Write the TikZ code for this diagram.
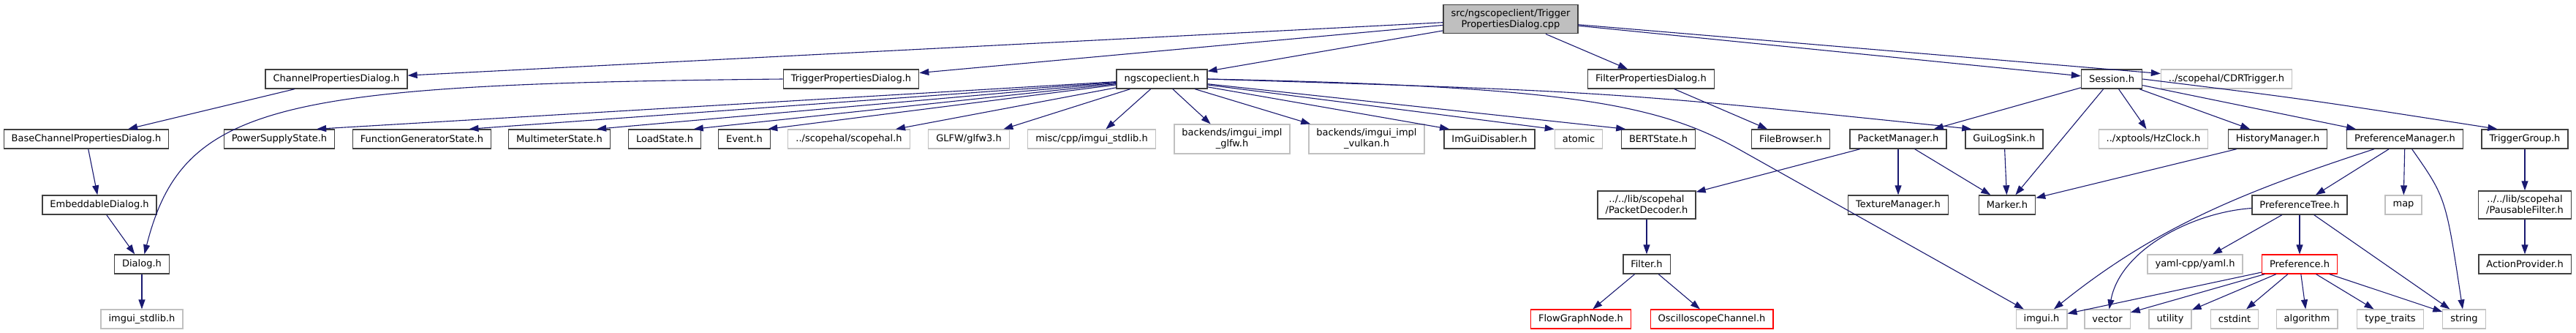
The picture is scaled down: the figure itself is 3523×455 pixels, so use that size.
\documentclass[tikz,border=0pt]{standalone}
\usepackage{fontspec}
\setmainfont{DejaVu Sans}
\usepackage{tikz}
\usetikzlibrary{arrows.meta}
\usepackage{xcolor}
\definecolor{edgeblue}{HTML}{191970}
\definecolor{rootfill}{HTML}{BFBFBF}
\definecolor{boxline}{HTML}{404040}
\definecolor{sysline}{HTML}{C0C0C0}

\begin{document}
\begin{tikzpicture}[
    x=1pt, y=-1pt,
    hfile/.style={draw=boxline, fill=white, line width=1.4pt, font=\fontsize{13}{15}\selectfont, inner xsep=10.5pt, inner ysep=6pt, minimum height=26pt, align=center},
    srcfile/.style={hfile, fill=rootfill},
    sysfile/.style={hfile, draw=sysline, line width=1.2pt},
    cutfile/.style={hfile, draw=red, line width=1.2pt},
    incl/.style={-{Triangle[length=13pt, width=9pt]}, draw=edgeblue, line width=1.1pt}
]
\useasboundingbox (0,0) rectangle (3523,455);

\def\ya{26}
\def\yb{108}
\def\yc{190}
\def\yd{280}
\def\ye{361}
\def\yf{436}

\node[srcfile] (main) at (2066,\ya) {src/ngscopeclient/Trigger\\PropertiesDialog.cpp};

\node[hfile] (cpd) at (460,\yb) {ChannelPropertiesDialog.h};
\node[hfile] (tpd) at (1164,\yb) {TriggerPropertiesDialog.h};
\node[hfile] (ngsc) at (1589,\yb) {ngscopeclient.h};
\node[hfile] (fpd) at (2258,\yb) {FilterPropertiesDialog.h};
\node[hfile] (sess) at (2888,\yb) {Session.h};
\node[sysfile] (cdr) at (3045,\yb) {../scopehal/CDRTrigger.h};

\node[hfile] (bcpd) at (118,\yc) {BaseChannelPropertiesDialog.h};
\node[hfile] (psu) at (382,\yc) {PowerSupplyState.h};
\node[hfile] (fgs) at (577,\yc) {FunctionGeneratorState.h};
\node[hfile] (mms) at (765,\yc) {MultimeterState.h};
\node[hfile] (load) at (909,\yc) {LoadState.h};
\node[hfile] (event) at (1018,\yc) {Event.h};
\node[sysfile] (scopehal) at (1161,\yc) {../scopehal/scopehal.h};
\node[sysfile] (glfw) at (1325,\yc) {GLFW/glfw3.h};
\node[sysfile] (miscstd) at (1493,\yc) {misc/cpp/imgui\_stdlib.h};
\node[sysfile] (implglfw) at (1685,\yc) {backends/imgui\_impl\\\_glfw.h};
\node[sysfile] (implvk) at (1869,\yc) {backends/imgui\_impl\\\_vulkan.h};
\node[hfile] (imdis) at (2037,\yc) {ImGuiDisabler.h};
\node[sysfile] (atomic) at (2159,\yc) {atomic};
\node[hfile] (bert) at (2268,\yc) {BERTState.h};
\node[hfile] (fbrowse) at (2449,\yc) {FileBrowser.h};
\node[hfile] (pktmgr) at (2596,\yc) {PacketManager.h};
\node[hfile] (logsink) at (2741,\yc) {GuiLogSink.h};
\node[sysfile] (hzclk) at (2945,\yc) {../xptools/HzClock.h};
\node[hfile] (histmgr) at (3115,\yc) {HistoryManager.h};
\node[hfile] (prefmgr) at (3289,\yc) {PreferenceManager.h};
\node[hfile] (trggrp) at (3453,\yc) {TriggerGroup.h};

\node[hfile] (emb) at (136,\yd) {EmbeddableDialog.h};
\node[hfile] (pktdec) at (2252,\yd) {../../lib/scopehal\\/PacketDecoder.h};
\node[hfile] (texmgr) at (2596,\yd) {TextureManager.h};
\node[hfile] (marker) at (2745,\yd) {Marker.h};
\node[hfile] (preftree) at (3145,\yd) {PreferenceTree.h};
\node[sysfile] (map) at (3287,\yd) {map};
\node[hfile] (pausf) at (3453,\yd) {../../lib/scopehal\\/PausableFilter.h};

\node[hfile] (dialog) at (194,\ye) {Dialog.h};
\node[hfile] (filter) at (2252,\ye) {Filter.h};
\node[sysfile] (yaml) at (3002,\ye) {yaml-cpp/yaml.h};
\node[cutfile] (pref) at (3145,\ye) {Preference.h};
\node[hfile] (actprov) at (3453,\ye) {ActionProvider.h};

\node[sysfile] (imstd) at (194,\yf) {imgui\_stdlib.h};
\node[cutfile] (flownode) at (2162,\yf) {FlowGraphNode.h};
\node[cutfile] (oscch) at (2341,\yf) {OscilloscopeChannel.h};
\node[sysfile] (imgui) at (2792,\yf) {imgui.h};
\node[sysfile] (vector) at (2882,\yf) {vector};
\node[sysfile] (utility) at (2968,\yf) {utility};
\node[sysfile] (cstdint) at (3056,\yf) {cstdint};
\node[sysfile] (algo) at (3155,\yf) {algorithm};
\node[sysfile] (ttraits) at (3269,\yf) {type\_traits};
\node[sysfile] (string) at (3370,\yf) {string};

\draw[incl] (main) -- (cpd);
\draw[incl] (main) -- (tpd);
\draw[incl] (main) -- (ngsc);
\draw[incl] (main) -- (fpd);
\draw[incl] (main) -- (sess);
\draw[incl] (main) -- (cdr);
\draw[incl] (cpd) -- (bcpd);
\draw[incl] (bcpd) -- (emb);
\draw[incl] (emb) -- (dialog);
\draw[incl] (dialog) -- (imstd);
\draw[incl] (tpd.west) .. controls (380,115) and (250,140) .. (dialog);

\draw[incl] (ngsc) -- (psu.15);
\draw[incl] (ngsc) -- (fgs.12);
\draw[incl] (ngsc) -- (mms.15);
\draw[incl] (ngsc) -- (load.19);
\draw[incl] (ngsc) -- (event.23);
\draw[incl] (ngsc) -- (scopehal.12);
\draw[incl] (ngsc) -- (glfw.16);
\draw[incl] (ngsc) -- (miscstd.35);
\draw[incl] (ngsc) -- (implglfw.145);
\draw[incl] (ngsc) -- (implvk.165);
\draw[incl] (ngsc) -- (imdis.166);
\draw[incl] (ngsc) -- (atomic.158);
\draw[incl] (ngsc) -- (bert.163);
\draw[incl] (ngsc.east) .. controls (2200,125) .. (logsink.163);
\draw[incl] (ngsc.east) .. controls (2150,118) and (2270,143) .. (2380,205) -- (imgui);

\draw[incl] (fpd) -- (fbrowse);

\draw[incl] (sess) -- (pktmgr);
\draw[incl] (sess) -- (marker);
\draw[incl] (sess) -- (hzclk);
\draw[incl] (sess) -- (histmgr);
\draw[incl] (sess) -- (prefmgr);
\draw[incl] (sess.east) .. controls (3150,135) .. (trggrp.160);

\draw[incl] (pktmgr) -- (pktdec);
\draw[incl] (pktmgr) -- (texmgr);
\draw[incl] (pktmgr) -- (marker);
\draw[incl] (logsink) -- (marker);
\draw[incl] (histmgr) -- (marker);
\draw[incl] (pktdec) -- (filter);
\draw[incl] (filter) -- (flownode);
\draw[incl] (filter) -- (oscch);

\draw[incl] (prefmgr) -- (preftree);
\draw[incl] (prefmgr) -- (map);
\draw[incl] (prefmgr) .. controls (3345,270) .. (string);
\draw[incl] (prefmgr) .. controls (3071,261) and (2950,309) .. (imgui);

\draw[incl] (preftree) .. controls (3000,290) and (2900,340) .. (vector);
\draw[incl] (preftree) -- (yaml);
\draw[incl] (preftree) -- (pref);
\draw[incl] (preftree) -- (string);

\draw[incl] (pref) -- (imgui);
\draw[incl] (pref) -- (vector);
\draw[incl] (pref) -- (utility);
\draw[incl] (pref) -- (cstdint);
\draw[incl] (pref) -- (algo);
\draw[incl] (pref) -- (ttraits);
\draw[incl] (pref) -- (string);

\draw[incl] (trggrp) -- (pausf);
\draw[incl] (pausf) -- (actprov);
\end{tikzpicture}
\end{document}
